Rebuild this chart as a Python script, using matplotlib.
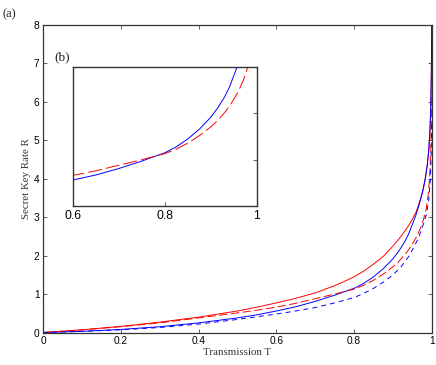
import matplotlib
matplotlib.use("Agg")
import matplotlib.pyplot as plt

plt.rcParams["lines.scale_dashes"] = False

# values
t_red_solid = [0, 0.1, 0.2, 0.3, 0.4, 0.5, 0.55, 0.6, 0.65, 0.7, 0.75, 0.775, 0.8, 0.825,
               0.85, 0.875, 0.9, 0.915, 0.93, 0.94, 0.95, 0.96, 0.97, 0.977, 0.983,
               0.988, 0.992, 0.995, 0.997, 0.9985, 0.9993, 0.9998]
r_red_solid = [0, 0.07, 0.16, 0.27, 0.40, 0.56, 0.66, 0.77, 0.89, 1.03, 1.22, 1.33, 1.45, 1.60,
               1.78, 1.98, 2.25, 2.43, 2.63, 2.78, 2.95, 3.15, 3.45, 3.7, 4.0,
               4.35, 4.75, 5.25, 5.85, 6.7, 7.6, 8.6]

t_blue_solid = [0, 0.1, 0.2, 0.3, 0.4, 0.5, 0.55, 0.6, 0.65, 0.7, 0.75, 0.78, 0.8, 0.825,
                0.85, 0.875, 0.9, 0.915, 0.93, 0.94, 0.95, 0.958, 0.966, 0.975, 0.982,
                0.988, 0.992, 0.995, 0.997, 0.9985, 0.9993, 0.9998]
r_blue_solid = [0, 0.03, 0.08, 0.15, 0.25, 0.38, 0.46, 0.56, 0.67, 0.81, 0.97, 1.08, 1.15, 1.28,
                1.45, 1.66, 1.92, 2.12, 2.36, 2.56, 2.82, 3.03, 3.28, 3.62, 3.95,
                4.35, 4.75, 5.25, 5.85, 6.7, 7.6, 8.6]

t_red_dash = [0, 0.1, 0.2, 0.3, 0.4, 0.5, 0.55, 0.6, 0.65, 0.7, 0.75, 0.8, 0.825, 0.85,
              0.875, 0.9, 0.915, 0.93, 0.94, 0.95, 0.96, 0.97, 0.978, 0.985, 0.99,
              0.994, 0.997, 0.9985, 0.9995]
r_red_dash = [0, 0.07, 0.15, 0.25, 0.38, 0.51, 0.58, 0.66, 0.76, 0.88, 1.0, 1.13, 1.23, 1.36,
              1.52, 1.71, 1.85, 2.02, 2.15, 2.31, 2.48, 2.70, 2.92, 3.2, 3.55,
              4.0, 4.7, 5.4, 6.3]

t_blue_dash = [0, 0.1, 0.2, 0.3, 0.4, 0.5, 0.55, 0.6, 0.65, 0.7, 0.75, 0.8, 0.825, 0.85,
               0.875, 0.9, 0.92, 0.942, 0.955, 0.965, 0.975, 0.986, 0.992, 0.996,
               0.998, 0.9995]
r_blue_dash = [0, 0.03, 0.07, 0.13, 0.22, 0.34, 0.41, 0.48, 0.56, 0.65, 0.77, 0.91, 1.02, 1.15,
               1.31, 1.50, 1.70, 2.0, 2.25, 2.45, 2.72, 3.08, 3.45, 4.0,
               4.6, 5.5]

x_ticks = [0, 0.2, 0.4, 0.6, 0.8, 1]
x_labels = ["0", "0.2", "0.4", "0.6", "0.8", "1"]
y_ticks = [0, 1, 2, 3, 4, 5, 6, 7, 8]
inset_x_ticks = [0.6, 0.8, 1]
inset_x_labels = ["0.6", "0.8", "1"]
inset_y_ticks = [1, 2]

red = "#ff0000"
blue = "#0000ff"
sans = "Liberation Sans"
serif = "Liberation Serif"

fig = plt.figure(figsize=(4.36, 3.65), dpi=100)
ax = fig.add_axes([0.0986, 0.089, 0.892, 0.8425])

lw = 0.7
ax.plot(t_red_solid, r_red_solid, color=red, lw=lw)
ax.plot(t_blue_solid, r_blue_solid, color=blue, lw=lw)
ax.plot(t_red_dash, r_red_dash, color=red, lw=lw, dashes=(6, 2.5))
ax.plot(t_blue_dash, r_blue_dash, color=blue, lw=lw, dashes=(3.5, 3))

ax.set_xlim(0, 1)
ax.set_ylim(0, 8)
ax.set_xticks(x_ticks)
ax.set_xticklabels(x_labels, fontfamily=sans, fontsize=7.3)
ax.set_yticks(y_ticks)
ax.set_yticklabels([str(v) for v in y_ticks], fontfamily=sans, fontsize=7.3)
ax.tick_params(direction="in", top=True, right=True, length=3, width=0.6,
               pad=2.5, color="#444444")
for s in ax.spines.values():
    s.set_linewidth(0.9)
    s.set_color("#333333")
ax.set_xlabel("Transmission T", fontfamily=serif, fontsize=7.8, labelpad=1.5,
              color="#333333")
ax.set_ylabel("Secret Key Rate R", fontfamily=serif, fontsize=7.8, labelpad=2,
              color="#333333")

fig.text(0.005, 0.953, "(a)", fontfamily=serif, fontsize=9, color="#222222")
fig.text(0.125, 0.835, "(b)", fontfamily=serif, fontsize=9.5, color="#222222")

# inset
axi = fig.add_axes([0.168, 0.436, 0.421, 0.380])
axi.plot(t_blue_solid, r_blue_solid, color=blue, lw=lw)
axi.plot(t_red_dash, r_red_dash, color=red, lw=lw, dashes=(10, 3))
axi.set_xlim(0.6, 1)
axi.set_ylim(0, 3)
axi.set_xticks(inset_x_ticks)
axi.set_xticklabels(inset_x_labels, fontfamily=sans, fontsize=8.8)
axi.set_yticks(inset_y_ticks)
axi.tick_params(axis="y", left=False, right=True, labelleft=False, labelright=False)
axi.tick_params(direction="in", length=3, width=0.6, pad=3, color="#444444")
for s in axi.spines.values():
    s.set_linewidth(1.0)
    s.set_color("#333333")

fig.savefig("out.png", dpi=100)
